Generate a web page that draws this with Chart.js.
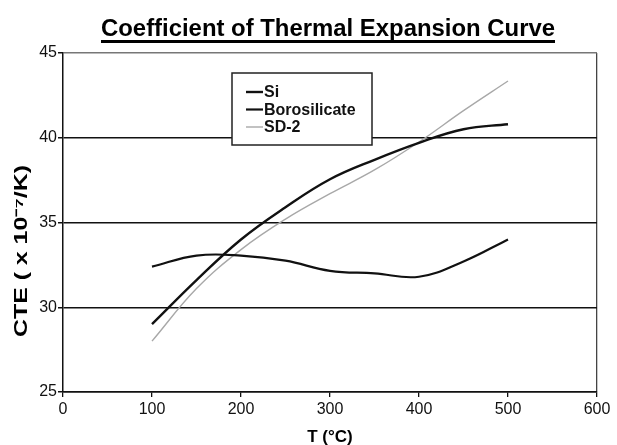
<!DOCTYPE html>
<html>
<head>
<meta charset="utf-8">
<script src="https://cdn.jsdelivr.net/npm/chart.js@4.4.1/dist/chart.umd.min.js"></script>
<style>
  html, body { margin: 0; padding: 0; background: #fff; }
</style>
</head>
<body>
<canvas id="cteChart" width="617" height="445"></canvas>
<script>
// === DADOS ===
const temps = [100, 150, 200, 250, 300, 350, 400, 450, 500];
const siCte = [29.0, 31.6, 34.0, 35.9, 37.55, 38.7, 39.7, 40.5, 40.8];
const boroCte = [32.4, 33.05, 33.05, 32.75, 32.15, 32.0, 31.8, 32.7, 34.0];
const sd2Cte = [28.0, 31.1, 33.4, 35.2, 36.7, 38.1, 39.75, 41.6, 43.35];
const seriesNames = ["Si", "Borosilicate", "SD-2"];
const xTicks = [0, 100, 200, 300, 400, 500, 600];
const yTicks = [25, 30, 35, 40, 45];

const chartTitle = "Coefficient of Thermal Expansion Curve";
const yTitle = "CTE ( x 10\u207B\u2077/K)";
const xTitle = "T (\u00B0C)";

const FONT = '"Liberation Sans", Arial, sans-serif';

function pontos(valores) {
    return temps.map((t, i) => ({ x: t, y: valores[i] }));
}

// texto comprimido na horizontal para caber numa largura
function textoLargura(ctx, txt, x, y, largura) {
    const w = ctx.measureText(txt).width;
    ctx.save();
    ctx.translate(x, y);
    ctx.scale(largura / w, 1);
    ctx.fillText(txt, 0, 0);
    ctx.restore();
}

// === PLUGIN: titulo, eixo Y e legenda ===
const extras = {
    id: "extras",
    afterDraw(chart) {
        const ctx = chart.ctx;
        ctx.save();

        // titulo sublinhado
        ctx.fillStyle = "#000";
        ctx.font = "bold 23px " + FONT;
        ctx.textAlign = "left";
        ctx.textBaseline = "alphabetic";
        textoLargura(ctx, chartTitle, 101, 36, 454);
        ctx.fillRect(101, 40, 454, 3);

        // titulo do eixo Y
        ctx.save();
        ctx.translate(22, 251);
        ctx.rotate(-Math.PI / 2);
        ctx.font = "bold 18px " + FONT;
        ctx.textBaseline = "middle";
        textoLargura(ctx, yTitle, -86, 0, 172);
        ctx.restore();

        // legenda
        const bx = 232, by = 73, bw = 140, bh = 72;
        ctx.fillStyle = "#fff";
        ctx.fillRect(bx, by, bw, bh);
        ctx.strokeStyle = "#222";
        ctx.lineWidth = 1.5;
        ctx.strokeRect(bx, by, bw, bh);
        ctx.font = "bold 16px " + FONT;
        ctx.textBaseline = "middle";
        chart.data.datasets.forEach((ds, i) => {
            const yy = by + 19 + i * 17.5;
            ctx.strokeStyle = ds.borderColor;
            ctx.lineWidth = ds.borderWidth;
            ctx.beginPath();
            ctx.moveTo(bx + 14, yy);
            ctx.lineTo(bx + 31, yy);
            ctx.stroke();
            ctx.fillStyle = "#111";
            ctx.fillText(ds.label, bx + 32, yy + 1);
        });

        ctx.restore();
    }
};

const ctx = document.getElementById("cteChart");

new Chart(ctx, {
    type: "line",
    data: {
        datasets: [
            { label: seriesNames[0], data: pontos(siCte), borderColor: "#111", borderWidth: 2.4 },
            { label: seriesNames[1], data: pontos(boroCte), borderColor: "#111", borderWidth: 2.2 },
            { label: seriesNames[2], data: pontos(sd2Cte), borderColor: "#a8a8a8", borderWidth: 1.4 }
        ]
    },
    options: {
        responsive: false,
        animation: false,
        elements: {
            point: { radius: 0 },
            line: { tension: 0.4, fill: false }
        },
        layout: { padding: { top: 53, right: 20, bottom: 0, left: 0 } },
        plugins: {
            legend: { display: false },
            title: { display: false },
            tooltip: { enabled: false }
        },
        scales: {
            x: {
                type: "linear",
                min: 0,
                max: 600,
                afterBuildTicks(s) { s.ticks = xTicks.map(v => ({ value: v })); },
                afterFit(s) { s.height = 53; },
                border: { display: true, color: "#111", width: 1.5 },
                grid: {
                    drawOnChartArea: true,
                    color: c => (c.tick && c.tick.value === 600 ? "#444" : "rgba(0,0,0,0)"),
                    tickColor: "#111",
                    tickLength: 5,
                    lineWidth: 1.3
                },
                ticks: {
                    color: "#111",
                    padding: 3,
                    font: { family: FONT, size: 16 }
                },
                title: {
                    display: true,
                    text: xTitle,
                    color: "#000",
                    font: { family: FONT, size: 17, weight: "bold" },
                    padding: { top: 0, bottom: -3 }
                }
            },
            y: {
                min: 25,
                max: 45,
                afterBuildTicks(s) { s.ticks = yTicks.map(v => ({ value: v })); },
                afterFit(s) { s.width = 63; },
                border: { display: true, color: "#111", width: 1.5 },
                grid: {
                    color: c => (c.tick && c.tick.value === 45 ? "#777" : "#111"),
                    tickColor: "#111",
                    tickLength: 5,
                    lineWidth: 1.5
                },
                ticks: {
                    color: "#111",
                    padding: 1,
                    font: { family: FONT, size: 16 }
                }
            }
        }
    },
    plugins: [extras]
});
</script>
</body>
</html>
